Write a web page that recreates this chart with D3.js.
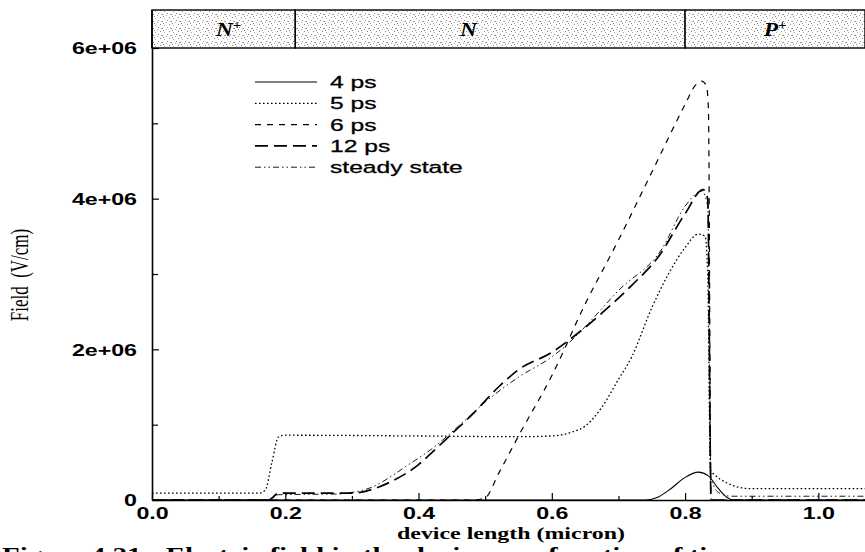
<!DOCTYPE html>
<html>
<head>
<meta charset="utf-8">
<script src="https://cdn.jsdelivr.net/npm/d3@7"></script>
<style>
  body { margin: 0; background: #fff; }
  svg { display: block; }
</style>
</head>
<body>
<div id="chart"></div>
<script>
// field profile across the device at several times
// x in micron, y in V/cm

const ps4 = [[0, 0], [0.70, 0], [0.74, 0], [0.76, 0.04e6], [0.78, 0.16e6], [0.80, 0.30e6], [0.82, 0.37e6],
  [0.835, 0.32e6], [0.85, 0.15e6], [0.862, 0.04e6], [0.872, 0], [1.07, 0]];

const ps5 = [[0, 0.09e6], [0.16, 0.09e6], [0.17, 0.13e6], [0.18, 0.5e6], [0.19, 0.84e6], [0.2, 0.86e6],
  [0.4, 0.85e6], [0.55, 0.84e6], [0.6, 0.85e6], [0.63, 0.9e6], [0.65, 0.98e6], [0.675, 1.23e6], [0.7, 1.6e6],
  [0.72, 1.9e6], [0.75, 2.55e6], [0.775, 3.0e6], [0.8, 3.35e6], [0.82, 3.53e6], [0.83, 3.5e6], [0.834, 3.0e6],
  [0.838, 0.4e6], [0.845, 0.33e6], [0.86, 0.24e6], [0.88, 0.17e6], [0.9, 0.15e6], [1.07, 0.15e6]];

const ps6 = [[0, 0], [0.48, 0], [0.5, 0.03e6], [0.52, 0.35e6], [0.55, 0.85e6], [0.6, 1.65e6], [0.65, 2.6e6],
  [0.7, 3.45e6], [0.75, 4.35e6], [0.8, 5.25e6], [0.815, 5.5e6], [0.825, 5.56e6], [0.832, 5.5e6],
  [0.835, 5.2e6], [0.839, 0], [1.07, 0]];

const ps12 = [[0, 0], [0.175, 0], [0.19, 0.09e6], [0.3, 0.09e6], [0.33, 0.14e6], [0.36, 0.25e6], [0.4, 0.47e6],
  [0.42, 0.63e6], [0.45, 0.88e6], [0.48, 1.13e6], [0.52, 1.5e6], [0.55, 1.73e6], [0.6, 1.96e6], [0.64, 2.22e6],
  [0.675, 2.48e6], [0.72, 2.85e6], [0.76, 3.23e6], [0.8, 3.8e6], [0.827, 4.12e6], [0.834, 4.0e6],
  [0.839, 0], [1.07, 0]];

const steady = [[0, 0], [0.175, 0], [0.19, 0.07e6], [0.28, 0.08e6], [0.3, 0.1e6], [0.33, 0.17e6],
  [0.36, 0.32e6], [0.38, 0.44e6], [0.42, 0.68e6], [0.46, 0.98e6], [0.5, 1.3e6], [0.55, 1.63e6], [0.6, 1.9e6],
  [0.62, 2.04e6], [0.65, 2.3e6], [0.7, 2.78e6], [0.765, 3.33e6], [0.8, 3.9e6], [0.825, 4.1e6],
  [0.834, 3.9e6], [0.839, 0.3e6], [0.85, 0.1e6], [0.87, 0.05e6], [1.07, 0.05e6]];

const seriesNames = ['4 ps', '5 ps', '6 ps', '12 ps', 'steady state'];
const seriesData = [ps4, ps5, ps6, ps12, steady];

const regionNames = ['N', 'N', 'P'];
const regionSup = ['+', '', '+'];
const regionEdges = [0, 0.215, 0.8, 1.07];
const regionLabelX = [0.115, 0.475, 0.935];

const yMajor = [0, 2e6, 4e6, 6e6];
const yMinor = [1e6, 3e6, 5e6];
const xMajor = [0, 0.2, 0.4, 0.6, 0.8, 1.0];
const xMinor = [0.1, 0.3, 0.5, 0.7, 0.9];

const W = 865, H = 552;
const SX = 1.45; // the scan is stretched sideways, so is the lettering
const dashes = [null, '1.6,2.4', '6,6', '13,6', '6,3,1.5,3,1.5,3'];
const widths = [1.1, 1.3, 1.2, 1.7, 0.9];

const svg = d3.select('#chart').append('svg').attr('width', W).attr('height', H);

const x = d3.scaleLinear().domain([0, 1.07]).range([152, 865]);
const y = d3.scaleLinear().domain([0, 6e6]).range([500, 48]);

// stipple pattern for the region band
const defs = svg.append('defs');
const pat = defs.append('pattern').attr('id', 'stip').attr('patternUnits', 'userSpaceOnUse')
  .attr('width', 9).attr('height', 7);
pat.append('rect').attr('width', 9).attr('height', 7).attr('fill', '#fff');
[[0, 0], [4, 1], [7, 3], [2, 4], [5, 6], [8, 0], [1, 2]].forEach(function(d, i) {
  pat.append('rect').attr('x', d[0]).attr('y', d[1]).attr('width', 1).attr('height', 1)
    .attr('fill', i % 2 ? '#a8a8a8' : '#888');
});
defs.append('clipPath').attr('id', 'plotclip').append('rect')
  .attr('x', 152).attr('y', 48).attr('width', W - 152).attr('height', 500 - 48 + 2);

// region band
const bandTop = 10, bandBot = 48;
const band = svg.append('g');
for (let i = 0; i < regionNames.length; i++) {
  band.append('rect')
    .attr('x', x(regionEdges[i]))
    .attr('y', bandTop)
    .attr('width', x(regionEdges[i + 1]) - x(regionEdges[i]))
    .attr('height', bandBot - bandTop)
    .attr('fill', 'url(#stip)')
    .attr('stroke', '#000')
    .attr('stroke-width', 1.4);
  const t = band.append('text')
    .attr('transform', 'translate(' + x(regionLabelX[i]) + ',' + 36 + ') scale(' + SX * 0.85 + ',1)')
    .attr('text-anchor', 'middle')
    .attr('font-family', 'Liberation Serif, serif')
    .attr('font-style', 'italic')
    .attr('font-weight', 'bold')
    .attr('font-size', 19)
    .text(regionNames[i]);
  if (regionSup[i]) {
    t.append('tspan').attr('dy', -7).attr('font-size', 12).text(regionSup[i]);
  }
}

// axes
const fmtY = function(v) {
  return v === 0 ? '0' : d3.format('.0e')(v).replace(/e\+(\d)$/, 'e+0$1');
};
const gy = svg.append('g').attr('transform', 'translate(152,0)')
  .call(d3.axisLeft(y).tickValues(yMajor).tickFormat(fmtY).tickSize(-7).tickSizeOuter(0));
svg.append('g').attr('transform', 'translate(152,0)')
  .call(d3.axisLeft(y).tickValues(yMinor).tickFormat('').tickSize(-6).tickSizeOuter(0))
  .select('.domain').remove();
const gx = svg.append('g').attr('transform', 'translate(0,500)')
  .call(d3.axisBottom(x).tickValues(xMajor).tickFormat(d3.format('.1f')).tickSize(-7).tickSizeOuter(0));
svg.append('g').attr('transform', 'translate(0,500)')
  .call(d3.axisBottom(x).tickValues(xMinor).tickFormat('').tickSize(-4).tickSizeOuter(0))
  .select('.domain').remove();

svg.selectAll('.domain').attr('stroke-width', 1.6);
svg.selectAll('.tick line').attr('stroke-width', 1.2);
[gy, gx].forEach(function(g) {
  g.attr('font-family', 'Liberation Sans, Arial, sans-serif').attr('font-size', 16).attr('font-weight', 'bold');
});
gy.selectAll('text').attr('x', -15 / SX).attr('dy', '0.36em').attr('transform', 'scale(' + SX + ',1)');
gx.selectAll('text').attr('y', 8).attr('dy', '0.71em').attr('transform', 'scale(' + SX + ',1)');
// left axis carries on up the side of the band
svg.append('line').attr('x1', 152).attr('x2', 152).attr('y1', bandTop).attr('y2', 48)
  .attr('stroke', '#000').attr('stroke-width', 1.6);

// curves
const line = d3.line()
  .x(function(d) { return x(d[0]); })
  .y(function(d) { return y(d[1]); })
  .curve(d3.curveMonotoneX);
const plot = svg.append('g').attr('clip-path', 'url(#plotclip)');
seriesData.forEach(function(s, i) {
  plot.append('path')
    .datum(s)
    .attr('d', line)
    .attr('fill', 'none')
    .attr('stroke', '#000')
    .attr('stroke-width', widths[i])
    .attr('stroke-dasharray', dashes[i]);
});

// legend
const legend = svg.append('g');
seriesNames.forEach(function(name, i) {
  const ly = 82 + i * 21.3;
  legend.append('line')
    .attr('x1', 255).attr('x2', 317).attr('y1', ly).attr('y2', ly)
    .attr('stroke', '#000')
    .attr('stroke-width', widths[i])
    .attr('stroke-dasharray', dashes[i]);
  legend.append('text')
    .attr('transform', 'translate(330,' + ly + ') scale(' + SX + ',1)')
    .attr('dy', '0.35em')
    .attr('font-family', 'Liberation Sans, Arial, sans-serif')
    .attr('font-size', 17)
    .attr('stroke', '#000')
    .attr('stroke-width', 0.3)
    .text(name);
});

// axis titles
svg.append('text')
  .attr('transform', 'translate(511,539) scale(' + SX + ',1)')
  .attr('text-anchor', 'middle')
  .attr('font-family', 'Liberation Serif, serif')
  .attr('font-weight', 'bold')
  .attr('font-size', 16.5)
  .text('device length (micron)');
svg.append('text')
  .attr('transform', 'translate(28,275) scale(' + SX + ',1) rotate(-90)')
  .attr('text-anchor', 'middle')
  .attr('font-family', 'Liberation Serif, serif')
  .attr('font-size', 17)
  .attr('xml:space', 'preserve')
  .text('Field  (V/cm)');

// caption, cut by the bottom of the scan
svg.append('text')
  .attr('transform', 'translate(2,562) scale(' + SX + ',1)')
  .attr('font-family', 'Liberation Serif, serif')
  .attr('font-weight', 'bold')
  .attr('font-size', 20)
  .attr('xml:space', 'preserve')
  .text('Figure 4.21:  Electric field in the device as a function of time.');
</script>
</body>
</html>
